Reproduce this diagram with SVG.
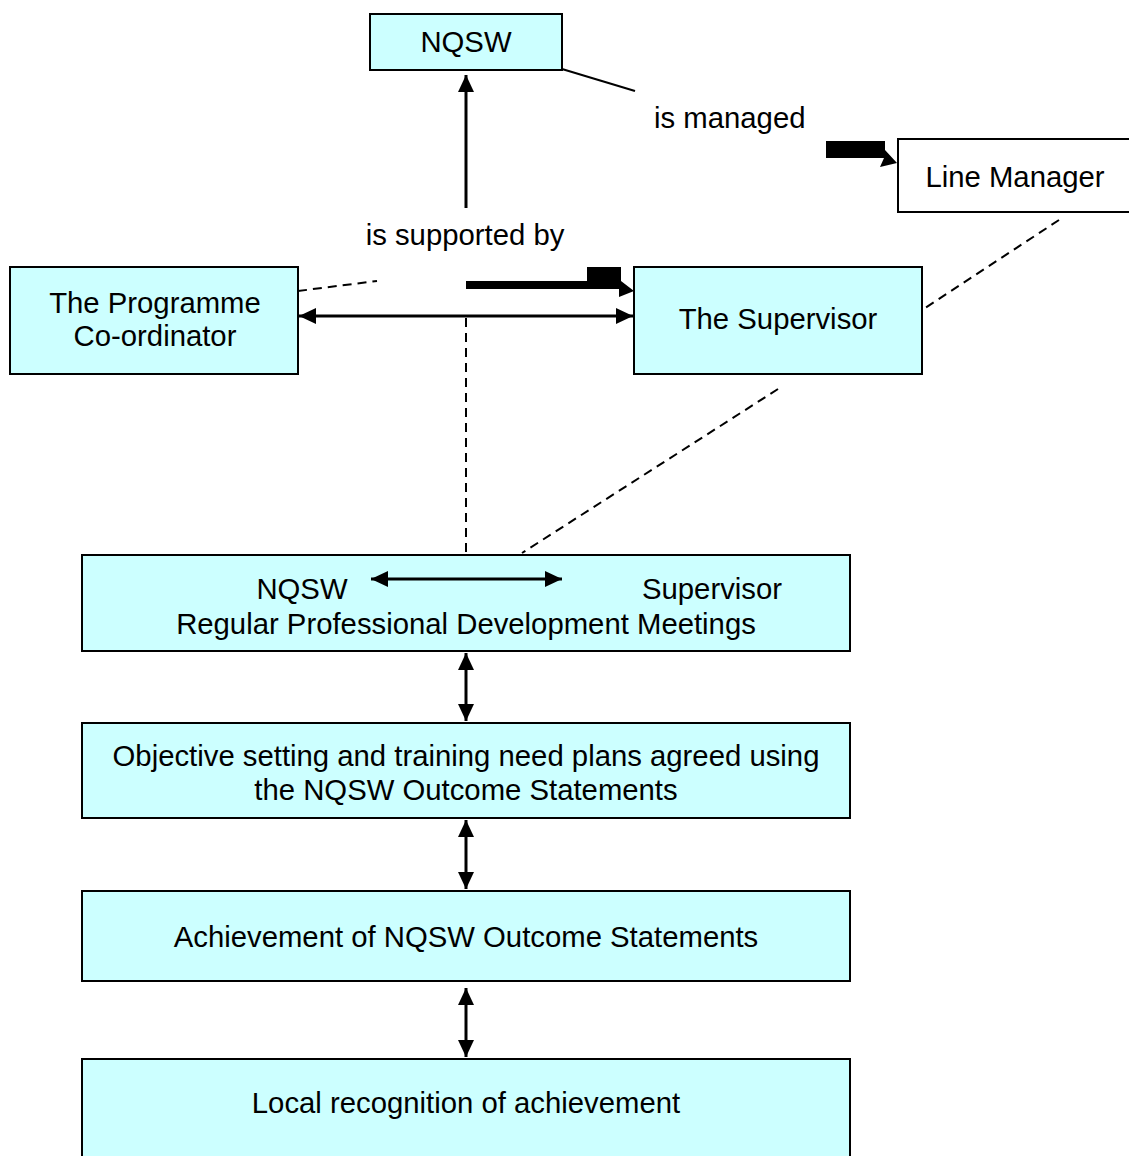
<svg xmlns="http://www.w3.org/2000/svg" width="1129" height="1156" viewBox="0 0 1129 1156">
<style>
.box{fill:#CCFFFF;stroke:#000;stroke-width:2}
.wbox{fill:#FFFFFF;stroke:#000;stroke-width:2}
.t{font-family:"Liberation Sans",Arial,sans-serif;font-size:29.3px;fill:#000;text-anchor:middle}
.tl{font-family:"Liberation Sans",Arial,sans-serif;font-size:29.3px;fill:#000}
.ln{stroke:#000;stroke-width:2;fill:none}
.dash{stroke:#000;stroke-width:2;fill:none;stroke-dasharray:9,6}
.arr{stroke:#000;stroke-width:3;fill:none;marker-end:url(#ah)}
.darr{stroke:#000;stroke-width:3;fill:none;marker-start:url(#ahs);marker-end:url(#ah)}
</style>
<defs>
<marker id="ah" markerUnits="userSpaceOnUse" markerWidth="20" markerHeight="18" refX="17" refY="8" orient="auto">
<path d="M0,0 L17,8 L0,16 Z" fill="#000"/>
</marker>
<marker id="ahs" markerUnits="userSpaceOnUse" markerWidth="20" markerHeight="18" refX="0" refY="8" orient="auto">
<path d="M17,0 L0,8 L17,16 Z" fill="#000"/>
</marker>
</defs>
<rect width="1129" height="1156" fill="#fff"/>

<g id="nqsw">
<rect class="box" x="370" y="14" width="192" height="56"/>
<text class="t" x="466" y="52">NQSW</text>
</g>
<text id="is-managed" class="tl" x="654" y="128">is managed</text>
<g id="line-manager">
<rect class="wbox" x="898" y="139" width="240" height="73"/>
<text class="t" x="1015" y="187">Line Manager</text>
</g>
<text id="is-supported" class="t" x="465" y="245">is supported by</text>
<g id="programme-coordinator">
<rect class="box" x="10" y="267" width="288" height="107"/>
<text class="t" x="155" y="313">The Programme</text>
<text class="t" x="155" y="346">Co-ordinator</text>
</g>
<g id="supervisor">
<rect class="box" x="634" y="267" width="288" height="107"/>
<text class="t" x="778" y="329">The Supervisor</text>
</g>
<g id="meetings">
<rect class="box" x="82" y="555" width="768" height="96"/>
<text class="t" x="302" y="599">NQSW</text>
<text class="t" x="712" y="599">Supervisor</text>
<text class="t" x="466" y="634">Regular Professional Development Meetings</text>
</g>
<g id="objective">
<rect class="box" x="82" y="723" width="768" height="95"/>
<text class="t" x="466" y="766">Objective setting and training need plans agreed using</text>
<text class="t" x="466" y="800">the NQSW Outcome Statements</text>
</g>
<g id="achievement">
<rect class="box" x="82" y="891" width="768" height="90"/>
<text class="t" x="466" y="947">Achievement of NQSW Outcome Statements</text>
</g>
<g id="local">
<rect class="box" x="82" y="1059" width="768" height="110"/>
<text class="t" x="466" y="1113">Local recognition of achievement</text>
</g>

<g id="connectors">
<line class="ln" x1="562" y1="69" x2="635" y2="91"/>
<line class="arr" x1="466" y1="208" x2="466" y2="75"/>
<path d="M826,141 H885 V150 L897,163 L880,167 L884,158 H826 Z" fill="#000"/>
<line class="dash" x1="1059" y1="220" x2="922" y2="310"/>
<line class="dash" x1="298" y1="291" x2="377" y2="281"/>
<path d="M466,281 H587 V267 H621 V281 L634,291 L619,297 L619,289 H466 Z" fill="#000"/>
<line class="darr" x1="299" y1="316" x2="633" y2="316"/>
<line class="dash" x1="466" y1="318" x2="466" y2="554"/>
<line class="dash" x1="778" y1="389" x2="522" y2="553"/>
<line class="darr" x1="371" y1="579" x2="562" y2="579"/>
<line class="darr" x1="466" y1="653" x2="466" y2="721"/>
<line class="darr" x1="466" y1="820" x2="466" y2="889"/>
<line class="darr" x1="466" y1="988" x2="466" y2="1057"/>
</g>
</svg>
